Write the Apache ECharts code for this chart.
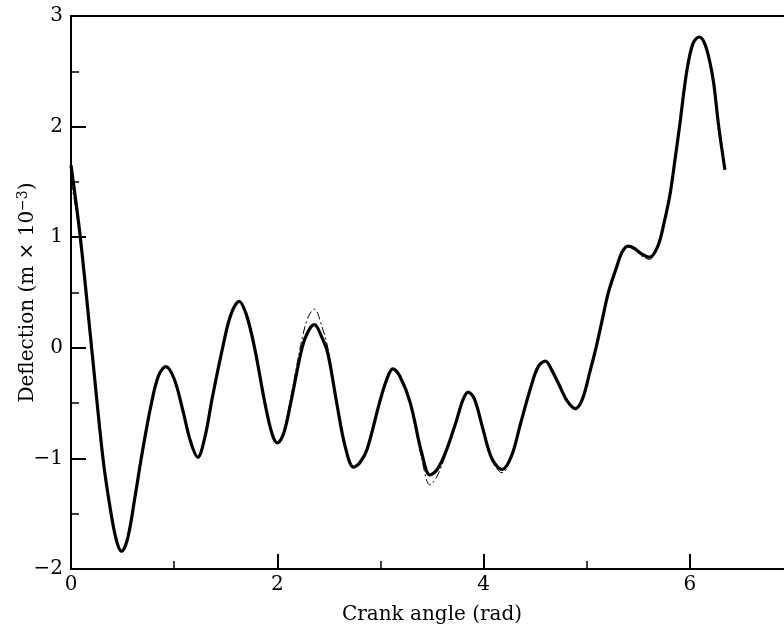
<!DOCTYPE html>
<html>
<head>
<meta charset="utf-8">
<script src="https://cdn.jsdelivr.net/npm/echarts@6/dist/echarts.min.js"></script>
<style>html,body{margin:0;padding:0;background:#fff}#c{width:784px;height:626px}</style>
</head>
<body>
<div id="c"></div>
<script>
// Crank angle (rad) and deflection (m x 10^-3)
const crankAngle = [0.00, 0.09, 0.20, 0.31, 0.38, 0.44, 0.49, 0.55, 0.62, 0.69, 0.78, 0.85, 0.92, 1.00, 1.08, 1.16, 1.23, 1.30, 1.37, 1.47, 1.55, 1.63, 1.70, 1.78, 1.88, 1.95, 2.00, 2.06, 2.13, 2.24, 2.30, 2.36, 2.43, 2.49, 2.58, 2.66, 2.74, 2.80, 2.87, 2.99, 3.06, 3.12, 3.19, 3.29, 3.40, 3.48, 3.55, 3.63, 3.73, 3.80, 3.85, 3.91, 3.99, 4.08, 4.18, 4.27, 4.36, 4.46, 4.53, 4.60, 4.66, 4.73, 4.81, 4.89, 4.96, 5.03, 5.09, 5.15, 5.21, 5.29, 5.34, 5.40, 5.46, 5.53, 5.61, 5.69, 5.75, 5.81, 5.86, 5.90, 5.97, 6.03, 6.09, 6.14, 6.19, 6.23, 6.28, 6.34];
const deflection = [1.65, 1.00, 0.00, -1.00, -1.45, -1.74, -1.84, -1.72, -1.35, -0.95, -0.50, -0.25, -0.17, -0.28, -0.55, -0.85, -0.99, -0.80, -0.45, 0.00, 0.30, 0.42, 0.30, 0.00, -0.50, -0.78, -0.86, -0.78, -0.50, 0.00, 0.15, 0.21, 0.10, -0.05, -0.52, -0.90, -1.08, -1.04, -0.92, -0.50, -0.29, -0.19, -0.26, -0.50, -0.95, -1.15, -1.10, -0.95, -0.68, -0.47, -0.40, -0.46, -0.72, -1.00, -1.10, -0.98, -0.68, -0.35, -0.17, -0.12, -0.20, -0.33, -0.48, -0.55, -0.46, -0.22, 0.00, 0.25, 0.50, 0.73, 0.86, 0.92, 0.90, 0.85, 0.82, 0.92, 1.13, 1.40, 1.73, 2.00, 2.50, 2.75, 2.81, 2.76, 2.60, 2.40, 2.00, 1.61];
// second (dash-dot) trace, deviates slightly at a few peaks / troughs
const deflection2 = [1.50, 1.00, 0.00, -1.00, -1.45, -1.74, -1.84, -1.72, -1.35, -0.95, -0.50, -0.25, -0.17, -0.28, -0.55, -0.85, -0.99, -0.80, -0.45, 0.00, 0.30, 0.42, 0.30, 0.00, -0.50, -0.78, -0.86, -0.76, -0.45, 0.08, 0.28, 0.35, 0.20, 0.00, -0.52, -0.90, -1.08, -1.04, -0.92, -0.50, -0.29, -0.20, -0.27, -0.52, -1.00, -1.24, -1.16, -0.97, -0.68, -0.47, -0.40, -0.46, -0.72, -1.02, -1.13, -0.99, -0.68, -0.35, -0.17, -0.12, -0.20, -0.33, -0.48, -0.56, -0.46, -0.22, 0.00, 0.25, 0.50, 0.73, 0.86, 0.92, 0.90, 0.83, 0.80, 0.92, 1.13, 1.40, 1.73, 2.00, 2.50, 2.75, 2.81, 2.76, 2.60, 2.40, 2.00, 1.61];
const xMajorTicks = [0, 2, 4, 6];
const yTicks = [-2, -1, 0, 1, 2, 3];

const font = 'Century Schoolbook, "DejaVu Serif", "Liberation Serif", serif';
const chart = echarts.init(document.getElementById('c'), null, {renderer: 'canvas'});
const pts = crankAngle.map((x, i) => [x, deflection[i]]);
const pts2 = crankAngle.map((x, i) => [x, deflection2[i]]);
chart.setOption({
  backgroundColor: '#fff',
  animation: false,
  grid: {left: 71, top: 16, width: 722, height: 553, show: true, borderColor: '#000', borderWidth: 2,
         outerBoundsMode: 'none', containLabel: false},
  xAxis: [{
    type: 'value', min: 0, max: 7, interval: 2, position: 'bottom',
    name: 'Crank angle (rad)', nameLocation: 'middle', nameGap: 36,
    nameTextStyle: {fontFamily: font, fontSize: 20, color: '#000'},
    axisLine: {show: true, onZero: false, lineStyle: {color: '#000', width: 2}},
    axisTick: {show: true, inside: true, length: 15, lineStyle: {color: '#000', width: 2}},
    axisLabel: {fontFamily: font, fontSize: 20, color: '#000', margin: 6,
      formatter: v => xMajorTicks.includes(v) ? String(v) : ''},
    splitLine: {show: false}
  }, {
    type: 'value', min: 0, max: 7, interval: 1, position: 'bottom',
    axisLine: {show: false, onZero: false},
    axisTick: {show: true, inside: true, length: 8, lineStyle: {color: '#000', width: 1.5}},
    axisLabel: {show: false},
    splitLine: {show: false}
  }],
  yAxis: {
    type: 'value', min: -2, max: 3, interval: 1,
    name: '{n|Deflection (m × 10}{s|−3}{n|)}', nameLocation: 'middle', nameRotate: 90, nameGap: 31,
    nameMoveOverlap: false,
    nameTextStyle: {rich: {
      n: {fontFamily: font, fontSize: 20, color: '#000'},
      s: {fontFamily: font, fontSize: 14, color: '#000', verticalAlign: 'top', padding: [0, 0, 10, 0]}
    }},
    axisLine: {show: true, onZero: false, lineStyle: {color: '#000', width: 2}},
    axisTick: {show: true, inside: true, length: 15, lineStyle: {color: '#000', width: 2}},
    minorTick: {show: true, splitNumber: 2, length: 8, lineStyle: {color: '#000', width: 1.5}},
    axisLabel: {fontFamily: font, fontSize: 20, color: '#000', margin: 8,
      formatter: v => yTicks.includes(v) ? (v < 0 ? '−' + Math.abs(v) : String(v)) : ''},
    splitLine: {show: false}
  },
  series: [{
    type: 'line', data: pts2, xAxisIndex: 0, smooth: 0.35, showSymbol: false,
    lineStyle: {color: '#000', width: 1, type: [8, 3, 2, 3]}, z: 1
  }, {
    type: 'line', data: pts, xAxisIndex: 0, smooth: 0.35, showSymbol: false,
    lineStyle: {color: '#000', width: 3.2}, z: 2
  }]
});
</script>
</body>
</html>
